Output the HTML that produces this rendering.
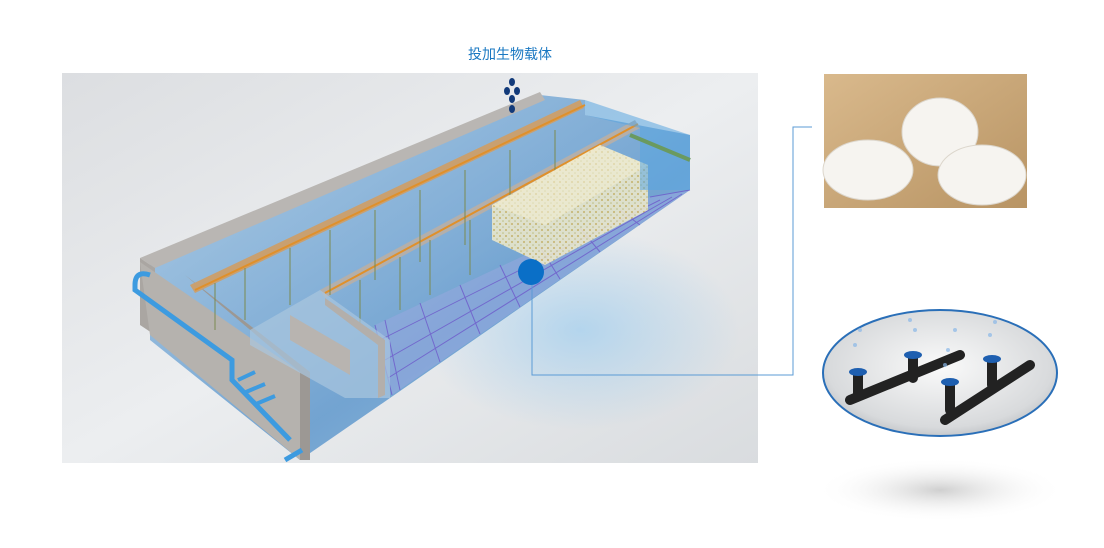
<!DOCTYPE html>
<html><head><meta charset="utf-8"><style>
html,body{margin:0;padding:0;background:#fff;width:1104px;height:548px;overflow:hidden}
.t{position:absolute;left:0;top:44px;width:1020px;text-align:center;font-family:"Liberation Sans","Noto Sans CJK SC",sans-serif;font-size:14px;color:#1a78c2}
</style></head><body>
<div class="t">投加生物载体</div>
<svg width="1104" height="548" style="position:absolute;left:0;top:0">
<defs>
<linearGradient id="bg" x1="0" y1="0" x2="1" y2="1"><stop offset="0" stop-color="#dcdee1"/><stop offset="0.5" stop-color="#eceef0"/><stop offset="1" stop-color="#d9dcdf"/></linearGradient>
<linearGradient id="wat" x1="0" y1="0" x2="1" y2="1"><stop offset="0" stop-color="#a9cbe6"/><stop offset="0.6" stop-color="#5e97cc"/><stop offset="1" stop-color="#8dbde4"/></linearGradient>
<radialGradient id="ov" cx="0.5" cy="0.45" r="0.6"><stop offset="0" stop-color="#fafafa"/><stop offset="0.8" stop-color="#d8dadc"/><stop offset="1" stop-color="#b9bcc0"/></radialGradient>
<radialGradient id="sh" cx="0.5" cy="0.5" r="0.5"><stop offset="0" stop-color="#cfcfcf"/><stop offset="1" stop-color="#fff" stop-opacity="0"/></radialGradient>
<linearGradient id="tan" x1="0" y1="0" x2="1" y2="1"><stop offset="0" stop-color="#d9b98c"/><stop offset="1" stop-color="#b89464"/></linearGradient>
<radialGradient id="glow" cx="0.5" cy="0.5" r="0.5"><stop offset="0" stop-color="#8cc6f0" stop-opacity="0.55"/><stop offset="1" stop-color="#8cc6f0" stop-opacity="0"/></radialGradient>
<pattern id="dots" width="6" height="6" patternUnits="userSpaceOnUse"><rect width="6" height="6" fill="#efeacb"/><circle cx="2" cy="2" r="1" fill="#d2b45a"/><circle cx="5" cy="5" r="0.8" fill="#c9c070"/></pattern>
</defs>
<rect x="62" y="73" width="696" height="390" fill="url(#bg)"/>
<ellipse cx="580" cy="330" rx="160" ry="100" fill="url(#glow)"/>
<polygon points="150,262 540,95 585,100 585,115 690,135 690,190 390,398 300,460 150,340" fill="url(#wat)" opacity="0.85"/>
<polygon points="140,258 540,92 545,100 155,268" fill="#b9b6b3"/>
<polygon points="140,258 155,268 155,335 140,325" fill="#aaa6a2"/>
<polygon points="140,262 300,372 300,460 150,335" fill="#b5b2ae"/>
<polygon points="185,275 310,372 310,460 300,460 300,372" fill="#9c9894"/>
<polygon points="375,325 650,197 690,190 392,395" fill="#9aa8e0" opacity="0.5"/>
<g stroke="#6a4fc8" stroke-width="1" opacity="0.7">
<line x1="375" y1="325" x2="392" y2="395"/><line x1="650" y1="197" x2="690" y2="190"/>
<line x1="385" y1="320" x2="400" y2="390"/><line x1="420" y1="303" x2="440" y2="362"/><line x1="460" y1="285" x2="480" y2="334"/><line x1="500" y1="265" x2="520" y2="307"/><line x1="540" y1="247" x2="560" y2="279"/><line x1="580" y1="228" x2="600" y2="252"/><line x1="620" y1="210" x2="640" y2="225"/>
<line x1="380" y1="340" x2="660" y2="200"/><line x1="385" y1="360" x2="672" y2="197"/><line x1="388" y1="378" x2="682" y2="194"/>
</g>
<polygon points="320,290 635,120 640,128 325,298" fill="#b3afab"/>
<polygon points="190,285 580,100 584,108 195,293" fill="#c9a070"/>
<line x1="195" y1="290" x2="585" y2="105" stroke="#e0902a" stroke-width="2"/>
<line x1="325" y1="293" x2="638" y2="124" stroke="#e0902a" stroke-width="2"/>
<g stroke="#7a8a50" stroke-width="1">
<line x1="215" y1="283" x2="215" y2="330"/><line x1="245" y1="268" x2="245" y2="320"/><line x1="290" y1="248" x2="290" y2="305"/><line x1="330" y1="230" x2="330" y2="295"/><line x1="375" y1="210" x2="375" y2="280"/><line x1="420" y1="190" x2="420" y2="262"/><line x1="465" y1="170" x2="465" y2="245"/><line x1="510" y1="150" x2="510" y2="225"/><line x1="555" y1="130" x2="555" y2="205"/>
<line x1="360" y1="280" x2="360" y2="330"/><line x1="400" y1="257" x2="400" y2="310"/><line x1="430" y1="240" x2="430" y2="295"/><line x1="470" y1="220" x2="470" y2="275"/>
</g>
<polygon points="250,330 320,290 390,340 390,398 345,398 250,345" fill="#a9c6de" opacity="0.7"/>
<polygon points="290,315 350,350 350,375 290,340" fill="#b8b4b0"/>
<polygon points="325,298 385,340 385,395 378,398 378,345 325,305" fill="#b3afab"/>
<polygon points="492,205 600,145 648,165 648,210 545,265 492,240" fill="url(#dots)" opacity="0.85"/>
<polygon points="492,205 600,145 648,165 545,225" fill="#f2edd0" opacity="0.6"/>
<polygon points="585,100 690,135 690,190 640,190 640,128 585,115" fill="#5aa6e0" opacity="0.55"/>
<line x1="630" y1="135" x2="690" y2="160" stroke="#6a9a60" stroke-width="4"/>
<path d="M150,275 Q135,270 135,285 L135,290 L232,360 L232,380 L290,440" fill="none" stroke="#3d9be0" stroke-width="5"/>
<line x1="238" y1="380" x2="255" y2="372" stroke="#3d9be0" stroke-width="4"/>
<line x1="246" y1="392" x2="265" y2="384" stroke="#3d9be0" stroke-width="4"/>
<line x1="256" y1="404" x2="275" y2="396" stroke="#3d9be0" stroke-width="4"/>
<line x1="285" y1="460" x2="302" y2="450" stroke="#3d9be0" stroke-width="5"/>
<g fill="#123a7a"><ellipse cx="512" cy="82" rx="3" ry="4"/><ellipse cx="507" cy="91" rx="3" ry="4"/><ellipse cx="517" cy="91" rx="3" ry="4"/><ellipse cx="512" cy="99" rx="3" ry="4"/><ellipse cx="512" cy="109" rx="3" ry="4"/></g>
<circle cx="531" cy="272" r="13" fill="#0a6fc7"/>
<polyline points="532,285 532,375 793,375 793,127 812,127" fill="none" stroke="#5b9bd5" stroke-width="1"/>
<rect x="824" y="74" width="203" height="134" fill="url(#tan)"/>
<g fill="#f6f4f0" stroke="#dcd6cc" stroke-width="1">
<ellipse cx="940" cy="132" rx="38" ry="34"/>
<ellipse cx="868" cy="170" rx="45" ry="30"/>
<ellipse cx="982" cy="175" rx="44" ry="30"/>
</g>
<ellipse cx="940" cy="490" rx="125" ry="32" fill="url(#sh)"/>
<ellipse cx="940" cy="373" rx="117" ry="63" fill="url(#ov)" stroke="#2a6fb8" stroke-width="2"/>
<g stroke="#222" stroke-linecap="round">
<line x1="850" y1="400" x2="960" y2="355" stroke-width="10"/>
<line x1="945" y1="420" x2="1030" y2="365" stroke-width="10"/>
<line x1="858" y1="375" x2="858" y2="396" stroke-width="10"/>
<line x1="913" y1="358" x2="913" y2="378" stroke-width="10"/>
<line x1="950" y1="385" x2="950" y2="410" stroke-width="10"/>
<line x1="992" y1="362" x2="992" y2="385" stroke-width="10"/>
</g>
<g fill="#1e5fb0"><ellipse cx="858" cy="372" rx="9" ry="4"/><ellipse cx="913" cy="355" rx="9" ry="4"/><ellipse cx="950" cy="382" rx="9" ry="4"/><ellipse cx="992" cy="359" rx="9" ry="4"/></g>
<g fill="#8ab8e8" opacity="0.7"><circle cx="855" cy="345" r="2"/><circle cx="860" cy="330" r="2"/><circle cx="915" cy="330" r="2"/><circle cx="910" cy="320" r="2"/><circle cx="948" cy="350" r="2"/><circle cx="955" cy="330" r="2"/><circle cx="990" cy="335" r="2"/><circle cx="995" cy="322" r="2"/><circle cx="945" cy="365" r="2"/></g>
</svg>
</body></html>
